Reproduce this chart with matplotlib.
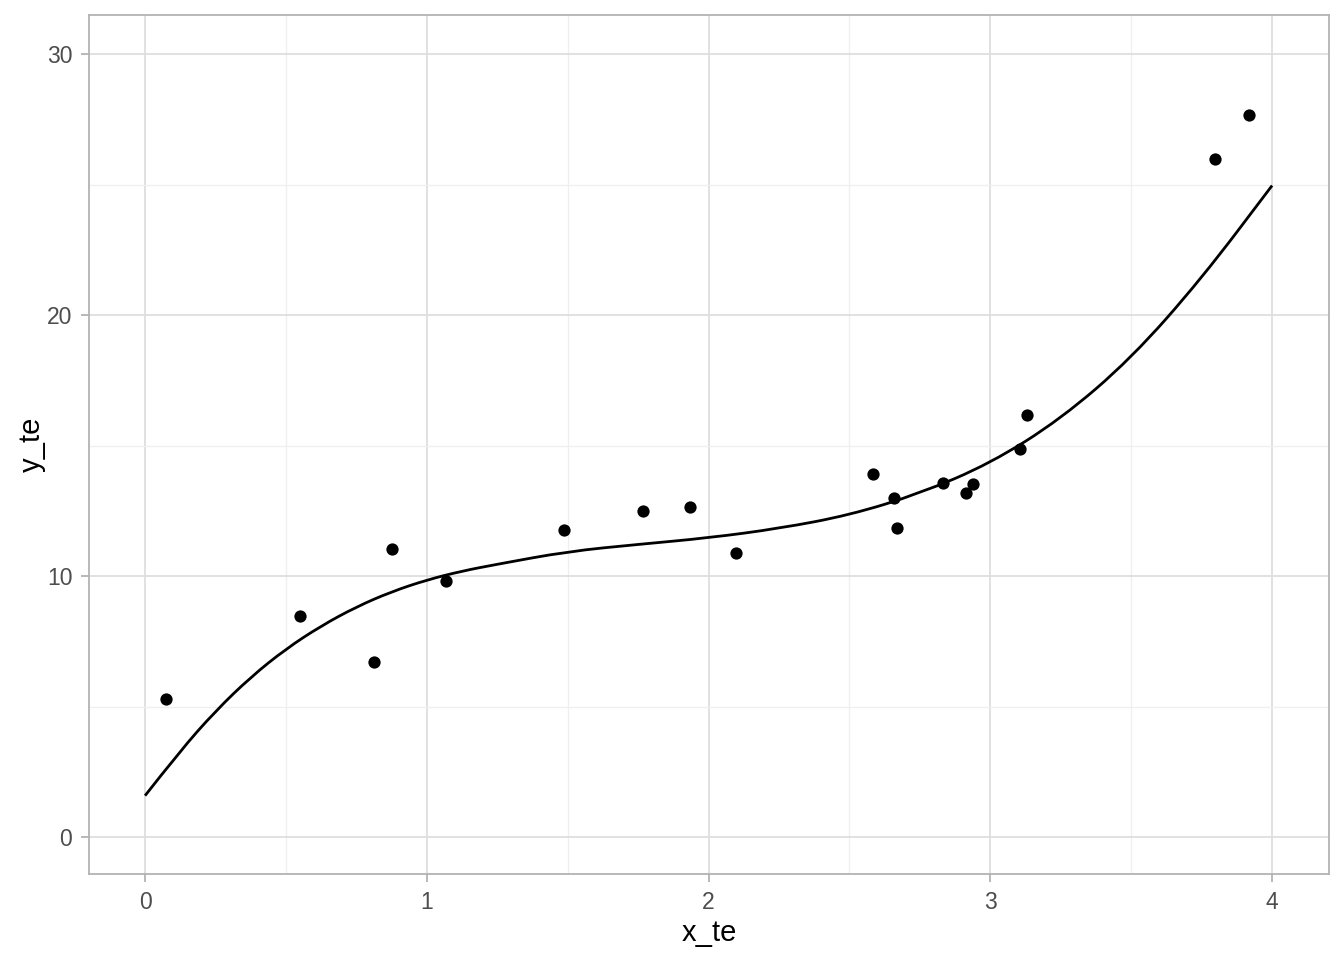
import numpy as np
import matplotlib
matplotlib.use('Agg')
import matplotlib.pyplot as plt
from matplotlib.ticker import MultipleLocator
from matplotlib.path import Path
from matplotlib.patches import PathPatch

# observed points
x_te = [0.075, 0.55, 0.813, 0.877, 1.068, 1.487, 1.768, 1.934, 2.098,
        2.584, 2.658, 2.669, 2.832, 2.914, 2.939, 3.106, 3.13, 3.798, 3.918]
y_te = [5.29, 8.47, 6.70, 11.03, 9.81, 11.76, 12.49, 12.64, 10.88,
        13.91, 12.99, 11.84, 13.56, 13.18, 13.52, 14.87, 16.17, 25.98, 27.66]

# fitted curve
curve_x = [0, 0.125, 0.25, 0.375, 0.5, 0.625, 0.75, 0.875, 1.0, 1.125,
           1.25, 1.5, 1.75, 2.0, 2.25, 2.5, 2.75, 3.0, 3.25, 3.5, 3.75, 4.0]
curve_y = [1.6, 3.32, 4.84, 6.14, 7.22, 8.10, 8.83, 9.41, 9.86, 10.2,
           10.46, 10.95, 11.22, 11.47, 11.83, 12.34, 13.17, 14.32, 16.02,
           18.34, 21.4, 24.96]

plt.rcParams['font.family'] = ['Liberation Sans', 'DejaVu Sans']


def smooth_path(xs, ys):
    # quadratic bezier through midpoints, so the line has no corners
    verts = [(xs[0], ys[0])]
    codes = [Path.MOVETO]
    for i in range(1, len(xs) - 1):
        mid = ((xs[i] + xs[i + 1]) / 2, (ys[i] + ys[i + 1]) / 2)
        verts += [(xs[i], ys[i]), mid]
        codes += [Path.CURVE3, Path.CURVE3]
    verts.append((xs[-1], ys[-1]))
    codes.append(Path.LINETO)
    return Path(verts, codes)


fig = plt.figure(figsize=(13.44, 9.6), dpi=100)
ax = fig.add_axes([89 / 1344, 1 - 874 / 960, 1240 / 1344, 859 / 960])

ax.set_xlim(-0.199, 4.202)
ax.set_ylim(-1.4, 31.49)

ax.xaxis.set_major_locator(MultipleLocator(1))
ax.xaxis.set_minor_locator(MultipleLocator(0.5))
ax.yaxis.set_major_locator(MultipleLocator(10))
ax.yaxis.set_minor_locator(MultipleLocator(5))

ax.grid(which='major', color='#DEDEDE', linewidth=1.3)
ax.grid(which='minor', color='#EFEFEF', linewidth=0.9)
ax.set_axisbelow(True)

for s in ax.spines.values():
    s.set_color('#B3B3B3')
    s.set_linewidth(1.3)

ax.tick_params(which='major', length=6, width=1.3, color='#B3B3B3',
               labelsize=16.5, labelcolor='#4D4D4D', pad=6)
ax.tick_params(which='minor', length=0)

ax.add_patch(PathPatch(smooth_path(curve_x, curve_y), facecolor='none',
                       edgecolor='black', linewidth=2.0, zorder=3))
ax.scatter(x_te, y_te, s=78, color='black', zorder=4, linewidths=0)

ax.set_xlabel('x_te', fontsize=21, labelpad=4)
ax.set_ylabel('y_te', fontsize=21, labelpad=1)

fig.savefig('out.png', dpi=100, facecolor='white')
